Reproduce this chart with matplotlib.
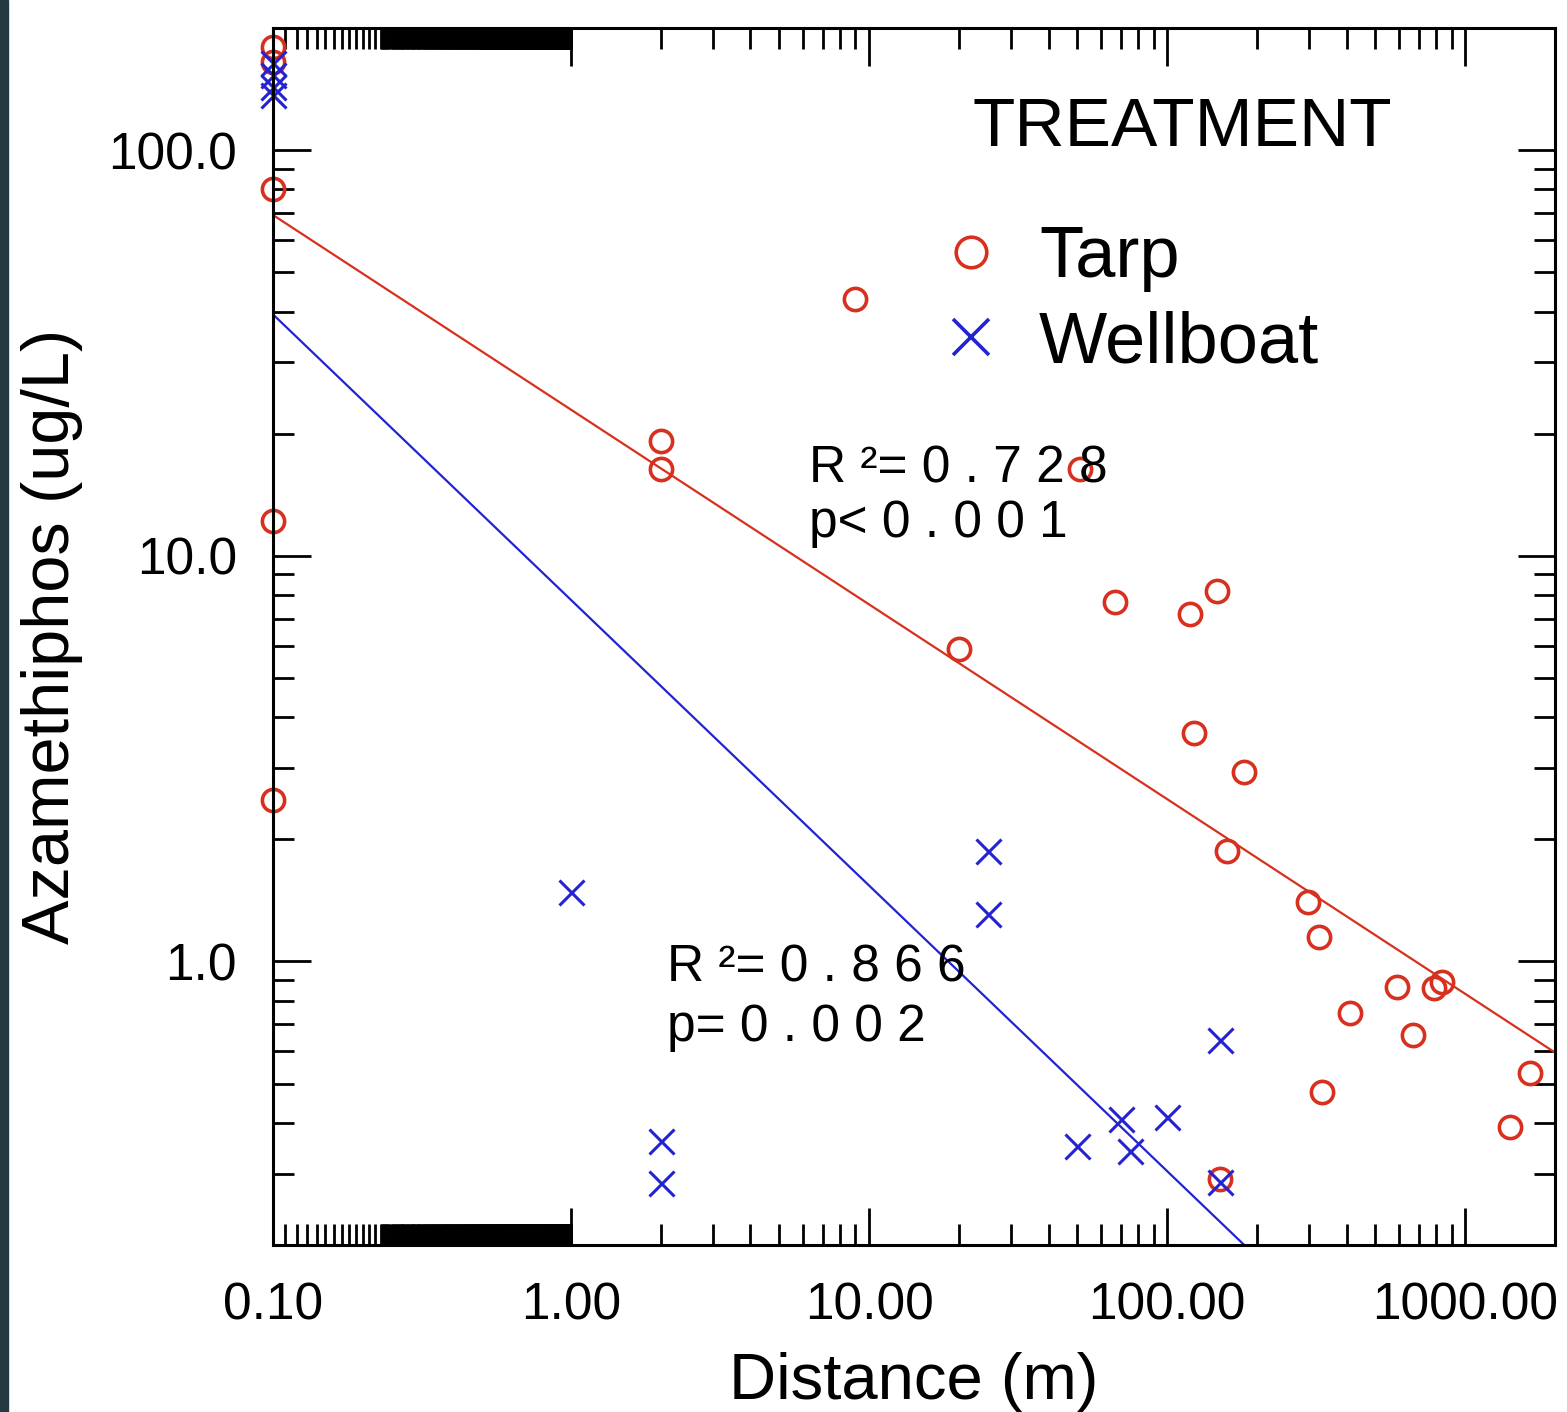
import numpy as np
import matplotlib
matplotlib.use("Agg")
from matplotlib import pyplot as plt, rcParams
from matplotlib.lines import Line2D
from matplotlib.patches import Rectangle
from matplotlib.ticker import NullFormatter

# values
tarp_x = [0.1, 0.1, 0.1, 0.1, 0.1, 9, 2, 2, 51, 20, 67, 119, 147, 123, 181, 159,
          298, 324, 412, 589, 667, 787, 833, 332, 1416, 1650, 150]
tarp_y = [180, 165, 80, 12.2, 2.5, 43, 19.2, 16.4, 16.4, 5.9, 7.7, 7.2, 8.2, 3.66, 2.93, 1.87,
          1.40, 1.15, 0.745, 0.863, 0.66, 0.86, 0.89, 0.477, 0.39, 0.53, 0.29]
well_x = [0.1, 0.1, 0.1, 0.1, 1, 2, 2, 25, 25, 150, 50, 70, 75, 100, 150]
well_y = [164, 153, 143, 137, 1.48, 0.361, 0.285, 1.87, 1.31, 0.64, 0.351, 0.409, 0.341, 0.414, 0.286]

# log-log fits: log10(y) = a + b*log10(x)
tarp_fit = (1.36, -0.48)
well_fit = (0.891, -0.704)
tarp_stats = ["R \u00b2= 0 . 7 2 8", "p< 0 . 0 0 1"]
well_stats = ["R \u00b2= 0 . 8 6 6", "p= 0 . 0 0 2"]

xticks = [0.1, 1, 10, 100, 1000]
xticklabels = ["0.10", "1.00", "10.00", "100.00", "1000.00"]
yticks = [1, 10, 100]
yticklabels = ["1.0", "10.0", "100.0"]

red = "#d8301e"
blue = "#2323d2"

rcParams.update({
    'font.family': ['Liberation Sans', 'DejaVu Sans'],
    'axes.linewidth': 2.2,
})

fig = plt.figure(figsize=(15.67, 14.12), dpi=100)
ax = fig.add_axes([0.1742, 0.1183, 0.8181, 0.8619])
fig.patches.append(Rectangle((0, 0), 0.005, 1, transform=fig.transFigure,
                             color="#243a40", zorder=-1))

ax.set_xscale('log')
ax.set_yscale('log')
ax.set_xlim(0.1, 2000)
ax.set_ylim(0.2, 200)

xx = np.logspace(-1, np.log10(2000), 200)
ax.plot(xx, 10 ** (tarp_fit[0] + tarp_fit[1] * np.log10(xx)), color=red, lw=1.6)
ax.plot(xx, 10 ** (well_fit[0] + well_fit[1] * np.log10(xx)), color=blue, lw=1.6)

ax.plot(tarp_x, tarp_y, 'o', ms=16, mfc='none', mec=red, mew=2.6, clip_on=False)
ax.plot(well_x, well_y, 'x', ms=18, color=blue, mew=2.2, clip_on=False)

# ticks (the original has a crowded run of minor ticks between 0.1 and 1)
ax.set_xticks(xticks)
ax.set_xticklabels(xticklabels)
ax.set_yticks(yticks)
ax.set_yticklabels(yticklabels)
xminor = [round(0.1 + 0.01 * k, 3) for k in range(1, 13)]
xminor += [round(0.23 + 0.002 * k, 3) for k in range(0, 385)]
for d in [1, 10, 100]:
    xminor += [k * d for k in range(2, 10)]
ax.set_xticks(xminor, minor=True)
yminor = []
for d in [0.1, 1, 10]:
    yminor += [k * d for k in range(2, 10)]
ax.set_yticks(yminor, minor=True)
ax.xaxis.set_minor_formatter(NullFormatter())
ax.yaxis.set_minor_formatter(NullFormatter())
ax.tick_params(which='both', direction='in', top=True, right=True, width=2.0,
               labelsize=37, pad=26)
ax.tick_params(which='major', length=27)
ax.tick_params(which='minor', length=15)

ax.set_xlabel("Distance (m)", fontsize=47, labelpad=16)
ax.set_ylabel("Azamethiphos (ug/L)", fontsize=48, labelpad=18)

# stats
ax.text(6.3, 16.4, tarp_stats[0], fontsize=37, va='center', ha='left')
ax.text(6.3, 12.0, tarp_stats[1], fontsize=37, va='center', ha='left')
ax.text(2.1, 0.966, well_stats[0], fontsize=37, va='center', ha='left')
ax.text(2.1, 0.689, well_stats[1], fontsize=37, va='center', ha='left')

# legend
ax.text(0.546, 0.918, "TREATMENT", transform=ax.transAxes, fontsize=50,
        ha='left', va='center')
handles = [Line2D([], [], ls='none', marker='o', ms=22, mfc='none', mec=red, mew=2.6),
           Line2D([], [], ls='none', marker='x', ms=26, color=blue, mew=2.6)]
ax.legend(handles, ["Tarp", "Wellboat"], frameon=False,
          loc='upper left', bbox_to_anchor=(0.516, 0.838), fontsize=52,
          handletextpad=0.45, labelspacing=0.25, handlelength=1.0,
          borderaxespad=0, borderpad=0)

fig.savefig('out.png', dpi=100)
